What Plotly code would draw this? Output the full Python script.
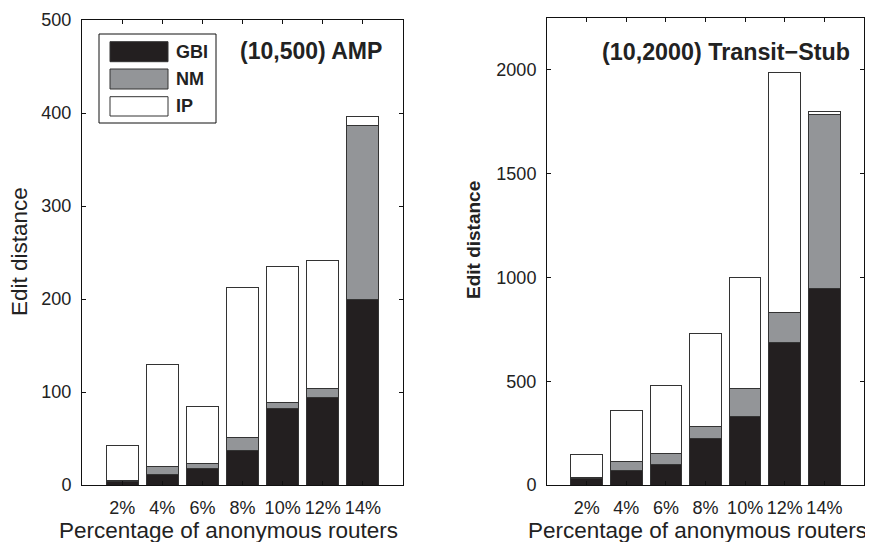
import plotly.graph_objects as go

# ---------------- data ----------------
categories = ["2%", "4%", "6%", "8%", "10%", "12%", "14%"]

# (10,500) AMP  -- stacked segments
amp_gbi = [4, 11, 18, 37, 82, 94, 200]
amp_nm = [0.5, 9, 5, 14, 7, 10, 187]
amp_ip = [38.5, 110, 61, 161, 146, 137, 9]

# (10,2000) Transit-Stub -- stacked segments
ts_gbi = [29, 69, 98, 223, 331, 688, 949]
ts_nm = [8, 42, 55, 58, 136, 144, 834]
ts_ip = [111, 250, 327, 448, 535, 1157, 16]

series_names = ["GBI", "NM", "IP"]
series_colors = ["#231f20", "#939598", "#ffffff"]

# page body has an 8px default margin; lay out in window pixels
OFF = 8
W, H = 873 - OFF, 542 - OFF


def px(x):
    return (x - OFF) / W


def py(y):
    return 1 - (y - OFF) / H


fig = go.Figure()

edge = dict(color="#333333", width=1)
for vals, name, col in zip([amp_gbi, amp_nm, amp_ip], series_names, series_colors):
    fig.add_trace(go.Bar(x=categories, y=vals, name=name, marker=dict(color=col, line=edge),
                         xaxis="x", yaxis="y", showlegend=False))
for vals, name, col in zip([ts_gbi, ts_nm, ts_ip], series_names, series_colors):
    fig.add_trace(go.Bar(x=categories, y=vals, name=name, marker=dict(color=col, line=edge),
                         xaxis="x2", yaxis="y2", showlegend=False))

font = "Liberation Sans, Arial, sans-serif"
tickfont = dict(family=font, size=18, color="#222222")
axis_common = dict(showline=True, linecolor="#111111", linewidth=1, mirror="allticks",
                   ticks="inside", ticklen=4, tickcolor="#111111", showgrid=False,
                   zeroline=False, tickfont=tickfont, automargin=False)

fig.update_layout(
    width=W, height=H,
    margin=dict(l=0, r=0, t=0, b=0),
    paper_bgcolor="white", plot_bgcolor="white",
    barmode="stack", bargap=0.2,
    xaxis=dict(domain=[px(82), px(403)], anchor="y", type="category",
               range=[-1, 7], ticklabelstandoff=6, **axis_common),
    yaxis=dict(domain=[py(485), py(20)], anchor="x", range=[0, 500], dtick=100,
               ticklabelstandoff=6, **axis_common),
    xaxis2=dict(domain=[px(547), px(864)], anchor="y2", type="category",
                range=[-1, 7], ticklabelstandoff=6, **axis_common),
    yaxis2=dict(domain=[py(485), py(18)], anchor="x2", range=[0, 2250], dtick=500,
                ticklabelstandoff=6, **axis_common),
)

ann = []
# axis titles
ann.append(dict(text="Edit distance", x=px(19), y=py(252), xref="paper", yref="paper",
                xanchor="center", yanchor="middle",
                textangle=-90, showarrow=False, font=dict(family=font, size=22.5, color="#222")))
ann.append(dict(text="<b>Edit distance</b>", x=px(474), y=py(240), xref="paper", yref="paper",
                xanchor="center", yanchor="middle",
                textangle=-90, showarrow=False, font=dict(family=font, size=19, color="#222")))
ann.append(dict(text="Percentage of anonymous routers", x=px(229), y=py(530), xref="paper",
                yref="paper", showarrow=False, xanchor="center", yanchor="middle",
                font=dict(family=font, size=22.5, color="#222")))
ann.append(dict(text="Percentage of anonymous routers", x=px(697), y=py(530), xref="paper",
                yref="paper", showarrow=False, xanchor="center", yanchor="middle",
                font=dict(family=font, size=22.5, color="#222")))
# panel titles
ann.append(dict(text="<b>(10,500) AMP</b>", x=px(384), y=py(51), xref="paper", yref="paper",
                xanchor="right", yanchor="middle", showarrow=False,
                font=dict(family=font, size=23, color="#222")))
ann.append(dict(text="<b>(10,2000) Transit\u2212Stub</b>", x=px(852), y=py(52), xref="paper",
                yref="paper", xanchor="right", yanchor="middle", showarrow=False,
                font=dict(family=font, size=23.3, color="#222")))

shapes = []
# custom legend in left panel
shapes.append(dict(type="rect", xref="paper", yref="paper", x0=px(99), x1=px(216),
                   y0=py(123), y1=py(34), line=dict(color="#111", width=1), fillcolor="white"))
sw_y = [(41.7, 61.7), (69, 89), (96.7, 116)]
for (y0, y1), name, col in zip(sw_y, series_names, series_colors):
    shapes.append(dict(type="rect", xref="paper", yref="paper", x0=px(110), x1=px(168),
                       y0=py(y1), y1=py(y0), line=dict(color="#333", width=1), fillcolor=col))
    ann.append(dict(text="<b>%s</b>" % name, x=px(174), y=py((y0 + y1) / 2), xref="paper",
                    yref="paper", xanchor="left", yanchor="middle", showarrow=False,
                    font=dict(family=font, size=18, color="#222")))

fig.update_layout(annotations=ann, shapes=shapes)
fig.write_html("out.html")
